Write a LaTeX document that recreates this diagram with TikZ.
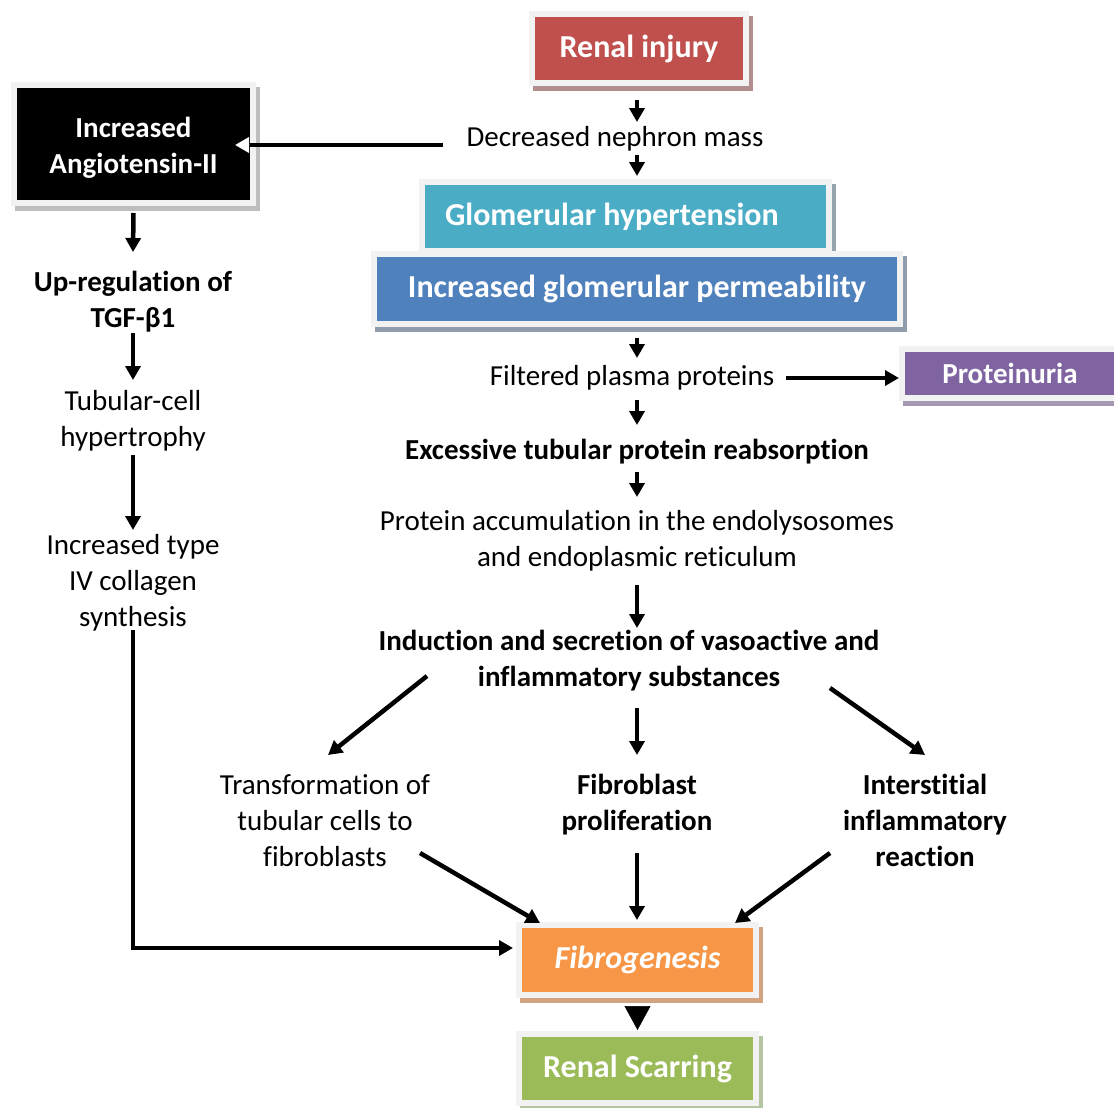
\documentclass[tikz,border=0pt]{standalone}
\usepackage{fontspec}
\setmainfont{Carlito}[Ligatures=NoCommon]
\usetikzlibrary{arrows.meta,shadows}

\definecolor{framegray}{HTML}{F2F2F2}
\definecolor{riFill}{HTML}{C0504D}\definecolor{riShadow}{HTML}{B38E8E}
\definecolor{angFill}{HTML}{000000}\definecolor{angShadow}{HTML}{BEBEBE}
\definecolor{ghFill}{HTML}{4BACC6}\definecolor{ghShadow}{HTML}{95A5B0}
\definecolor{igpFill}{HTML}{4F81BD}\definecolor{igpShadow}{HTML}{8E9CAC}
\definecolor{protFill}{HTML}{8064A2}\definecolor{protShadow}{HTML}{A598B0}
\definecolor{fibFill}{HTML}{F79646}\definecolor{fibShadow}{HTML}{D2A381}
\definecolor{rsFill}{HTML}{9BBB59}\definecolor{rsShadow}{HTML}{B5C4A3}

\begin{document}
\begin{tikzpicture}[x=1pt,y=-1pt,
  box/.style={fill=#1, draw=framegray, line width=6pt, text=white, inner sep=0pt,
    font=\fontsize{32}{38}\selectfont\bfseries},
  boxshadow/.style={general shadow={fill=#1, draw=#1, line width=6pt,
    shadow xshift=4pt, shadow yshift=-5pt}},
  boxtxt/.style={text=white, inner sep=0pt, align=center,
    font=\fontsize{29}{36}\selectfont\bfseries,
    execute at begin node=\strut, execute at end node=\strut},
  txt/.style={inner sep=0pt, align=center, font=\fontsize{29}{36}\selectfont,
    execute at begin node=\strut, execute at end node=\strut},
  btxt/.style={txt, font=\fontsize{29}{36}\selectfont\bfseries},
  arr/.style={line width=4.5pt, -{Triangle[length=14pt,width=15pt]}},
  bigarr/.style={line width=0.5pt, -{Triangle[length=24pt,width=26pt]}}]

\useasboundingbox (0,0) rectangle (1114,1108);

% ---- coloured boxes ----
\node[box=riFill, boxshadow=riShadow, minimum width=214pt, minimum height=69pt]
  (ri) at (639,48.5) {Renal injury};
\node[box=angFill, boxshadow=angShadow, minimum width=239pt, minimum height=118pt]
  (ang) at (133.5,144) {};
\node[boxtxt] (angt) at (133.5,151) {Increased\\Angiotensin-II};
\node[box=ghFill, boxshadow=ghShadow, minimum height=69pt,
  text width=361pt, inner xsep=23pt, align=flush left]
  (gh) at (625.5,216.5) {Glomerular hypertension};
\node[box=igpFill, boxshadow=igpShadow, minimum width=526pt, minimum height=70pt]
  (igp) at (637,289) {Increased glomerular permeability};
\node[box=protFill, boxshadow=protShadow, minimum width=216pt, minimum height=49pt,
  font=\fontsize{29}{36}\selectfont\bfseries]
  (prot) at (1010,373.5) {Proteinuria};
\node[box=fibFill, boxshadow=fibShadow, minimum width=237pt, minimum height=70pt,
  font=\fontsize{32}{38}\selectfont\bfseries\itshape]
  (fib) at (637.5,960) {Fibrogenesis};
\node[box=rsFill, boxshadow=rsShadow, minimum width=237pt, minimum height=69pt]
  (rs) at (637.5,1068.5) {Renal Scarring};

% ---- plain text steps ----
\node[txt]  (dnm)  at (615,139) {Decreased nephron mass};
\node[btxt] (upr)  at (133,305) {Up-regulation of\\TGF-β1};
\node[txt]  (tch)  at (133,424) {Tubular-cell\\hypertrophy};
\node[txt]  (itc)  at (133,586) {Increased type\\IV collagen\\synthesis};
\node[txt]  (fpp)  at (632,378) {Filtered plasma proteins};
\node[btxt] (etpr) at (637,452) {Excessive tubular protein reabsorption};
\node[txt]  (pa)   at (637,544) {Protein accumulation in the endolysosomes\\and endoplasmic reticulum};
\node[btxt] (ind)  at (629,664) {Induction and secretion of vasoactive and\\inflammatory substances};
\node[txt]  (ttc)  at (325,826) {Transformation of\\tubular cells to\\fibroblasts};
\node[btxt] (fpr)  at (637,808) {Fibroblast\\proliferation};
\node[btxt] (iir)  at (925,826) {Interstitial\\inflammatory\\reaction};

\coordinate (col) at (637,0);

% ---- main column ----
\draw[arr] ([yshift=-14pt]col |- ri.south) -- ([yshift=17pt]col |- dnm.center);
\draw[arr] ([yshift=-16pt]col |- dnm.center) -- ([yshift=3pt]col |- gh.north);
\draw[arr] ([yshift=-11pt]col |- igp.south) -- ([yshift=20pt]col |- fpp.center);
\draw[arr] ([yshift=-22pt]col |- fpp.center) -- ([yshift=27pt]etpr.center);
\draw[arr] ([yshift=-20pt]etpr.center) -- ([yshift=47pt]pa.center);
\draw[arr] ([yshift=-41pt]pa.center) -- ([yshift=36pt]col |- ind.center);
\draw[arr] ([yshift=-44pt]col |- ind.center) -- ([yshift=53pt]fpr.center);
\draw[arr] ([yshift=-45pt]fpr.center) -- ([yshift=2pt]col |- fib.north);
\draw[bigarr] ([yshift=-14pt]fib.south) -- ([yshift=1pt]rs.north);

% ---- side branches ----
\draw[line width=4.5pt, -{Triangle[length=14pt,width=15pt,color=white]}]
  ([xshift=-23pt,yshift=-6pt]dnm.west) -- ([xshift=-21pt,yshift=-1pt]ang.east);
\draw[arr] ([xshift=12pt]fpp.east) -- (prot.west |- fpp.east);

\draw[arr] ([xshift=-202pt,yshift=-12pt]ind.center) -- ([xshift=3pt,yshift=71pt]ttc.center);
\draw[arr] ([xshift=201pt,yshift=-24pt]ind.center) -- ([yshift=71pt]iir.center);
\draw[arr] ([xshift=95pt,yshift=-27pt]ttc.center) -- ([xshift=-97.5pt,yshift=37pt]fib.center);
\draw[arr] ([xshift=-95pt,yshift=-27pt]iir.center) -- ([xshift=97.5pt,yshift=37pt]fib.center);

% ---- left column ----
\draw[arr] ([yshift=-7pt]ang.south) -- ([yshift=53pt]upr.center);
\draw[arr] ([yshift=-28pt]upr.center) -- ([yshift=44pt]tch.center);
\draw[arr] ([yshift=-31pt]tch.center) -- ([yshift=56pt]itc.center);
\draw[arr] ([yshift=-44pt]itc.center) |- ([xshift=-3pt,yshift=12pt]fib.west);
\end{tikzpicture}
\end{document}
